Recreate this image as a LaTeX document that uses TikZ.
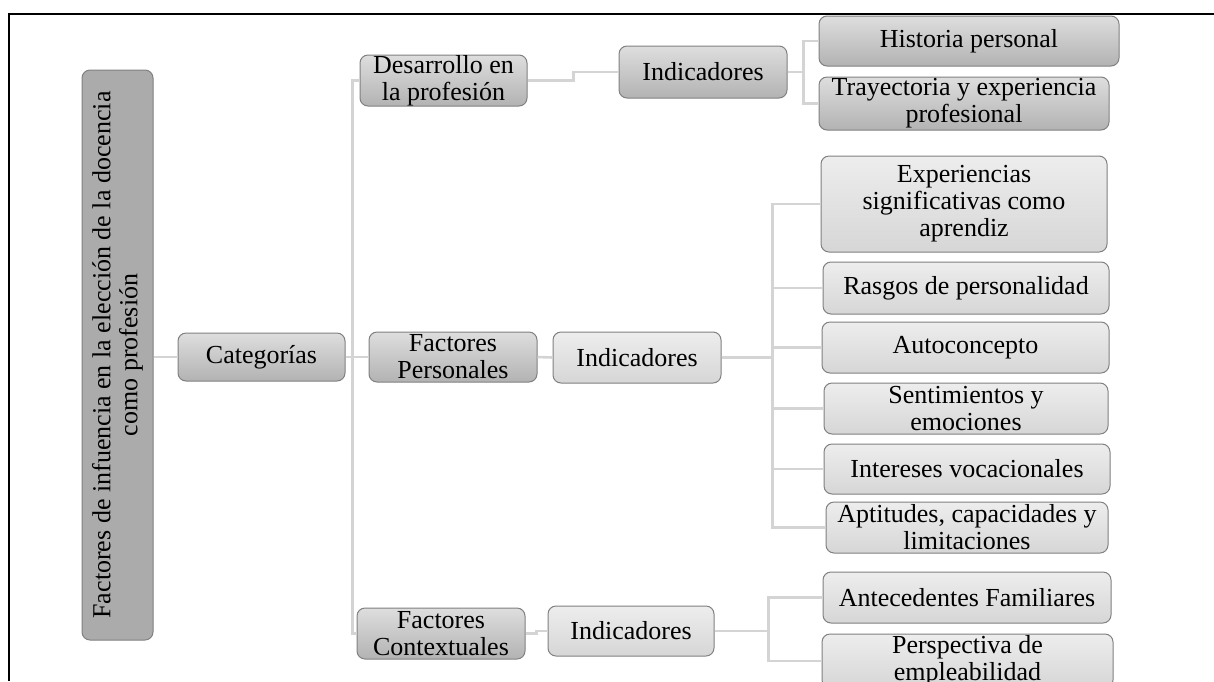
\documentclass[tikz,border=0pt]{standalone}
\usepackage{fontspec}
\setmainfont{Liberation Serif}
\begin{document}
\begin{tikzpicture}[x=0.5pt,y=-0.5pt,
  box/.style={draw=black!50,line width=0.5pt,rounded corners=4pt,inner sep=0pt,
    align=center,font=\fontsize{13}{13.5}\selectfont},
  darkbox/.style={box,top color=black!13,bottom color=black!30},
  lightbox/.style={box,top color=black!7,bottom color=black!16},
  link/.style={draw=black!17,line width=1.3pt}]
\useasboundingbox (0,0) rectangle (1214,681);
\clip (0,0) rectangle (1214,681);
\draw [line width=1pt] (9,681) -- (9,14) -- (1214,14);
\node [box,fill=black!33,rotate=90,minimum width=285pt,minimum height=35.5pt] (root) at (117.5,355)
  {Factores de infuencia en la elección de la docencia\\como profesión};
\node [darkbox,minimum width=83.5pt,minimum height=24pt] (cat) at (261.5,357) {Categorías};
\node [darkbox,minimum width=83.5pt,minimum height=25.5pt] (des) at (443.5,80.5) {Desarrollo en\\la profesión};
\node [darkbox,minimum width=84pt,minimum height=25pt] (pers) at (453,357) {Factores\\Personales};
\node [darkbox,minimum width=84pt,minimum height=25.5pt] (cont) at (441,633.5) {Factores\\Contextuales};
\node [darkbox,minimum width=84pt,minimum height=26pt] (ind1) at (703,72) {Indicadores};
\node [lightbox,minimum width=84pt,minimum height=25.5pt] (ind2) at (637,357.5) {Indicadores};
\node [lightbox,minimum width=83pt,minimum height=25pt] (ind3) at (631,631) {Indicadores};
\node [darkbox,minimum width=150pt,minimum height=25pt] (hist) at (969,41) {Historia personal};
\node [darkbox,minimum width=145pt,minimum height=26.5pt] (tray) at (964,103.5) {Trayectoria y experiencia\\profesional};
\node [lightbox,minimum width=143pt,minimum height=48pt] (exp) at (964,204) {Experiencias\\significativas como\\aprendiz};
\node [lightbox,minimum width=143pt,minimum height=26pt] (ras) at (966,288) {Rasgos de personalidad};
\node [lightbox,minimum width=143.5pt,minimum height=25.5pt] (auto) at (965.5,347.5) {Autoconcepto};
\node [lightbox,minimum width=142pt,minimum height=25.5pt] (sent) at (966,408.5) {Sentimientos y\\emociones};
\node [lightbox,minimum width=143pt,minimum height=25pt] (inte) at (967,469) {Intereses vocacionales};
\node [lightbox,minimum width=141pt,minimum height=25.5pt] (apt) at (967,527.5) {Aptitudes, capacidades y\\limitaciones};
\node [lightbox,minimum width=144pt,minimum height=25.5pt] (ant) at (967,597.5) {Antecedentes Familiares};
\node [lightbox,minimum width=145.5pt,minimum height=27pt] (per) at (967.5,661) {Perspectiva de\\empleabilidad};
\draw [link] (root.south |- cat.west) -- (cat.west);
\foreach \n in {des,pers,cont}
  \draw [link] (cat.east) -- ++(7,0) |- (\n.west);
\draw [link] (des.east) -- ++(46,0) |- (ind1.west);
\draw [link] (pers.east) -- (ind2.west);
\draw [link] (cont.east) -- ++(11,0) |- (ind3.west);
\foreach \n in {hist,tray}
  \draw [link] (ind1.east) -- ++(16,0) |- (\n.west);
\foreach \n in {exp,ras,auto,sent,inte,apt}
  \draw [link] (ind2.east) -- ++(51,0) |- (\n.west);
\foreach \n in {ant,per}
  \draw [link] (ind3.east) -- ++(54,0) |- (\n.west);
\end{tikzpicture}
\end{document}
